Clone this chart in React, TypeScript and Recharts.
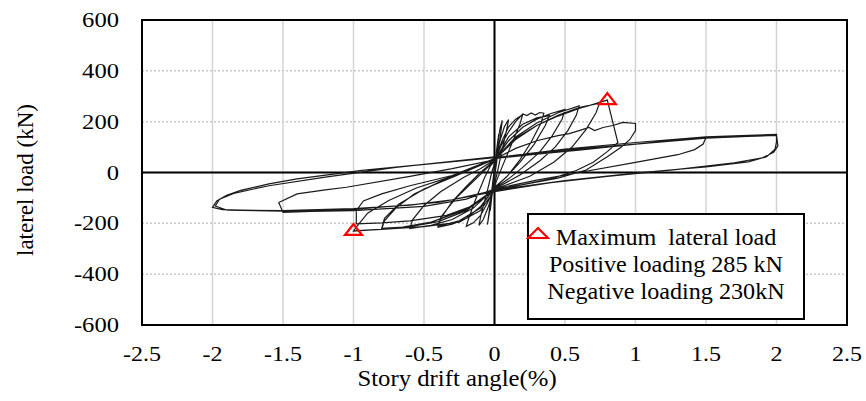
import React from 'react';
import {
  ComposedChart,
  Line,
  Scatter,
  XAxis,
  YAxis,
  CartesianGrid,
  ReferenceLine,
  ReferenceArea,
  Label,
} from 'recharts';

const driftTicks = [-2.5, -2, -1.5, -1, -0.5, 0, 0.5, 1, 1.5, 2, 2.5];
const loadTicks = [-600, -400, -200, 0, 200, 400, 600];

type Pt = [number, number];

const cycle1: Pt[] = [
  [0, 0], [0.01, 70], [0.03, 150], [0.025, 110], [0.005, 30], [-0.01, -50],
  [-0.03, -150], [-0.025, -110], [-0.005, -20],
];
const cycle2: Pt[] = [
  [0, 20], [0.02, 110], [0.04, 175], [0.055, 205], [0.045, 160], [0.02, 60], [0, -20],
  [-0.02, -100], [-0.04, -170], [-0.05, -205], [-0.04, -165], [-0.015, -50], [0, 20],
];
const cycle3: Pt[] = [
  [0, 30], [0.03, 110], [0.07, 180], [0.1, 208], [0.085, 165], [0.05, 80], [0.02, 0], [0, -45],
  [-0.04, -130], [-0.08, -185], [-0.11, -208], [-0.095, -165], [-0.05, -70], [-0.02, 0], [0, 35],
];
const cycle4: Pt[] = [
  [0, 40], [0.05, 120], [0.1, 180], [0.15, 210], [0.2, 228], [0.18, 190], [0.12, 110], [0.06, 30],
  [0.02, -25], [0, -55], [-0.05, -120], [-0.1, -170], [-0.15, -198], [-0.2, -212], [-0.18, -175],
  [-0.13, -100], [-0.07, -20], [-0.03, 25], [0, 45],
];
const cycle5: Pt[] = [
  [0, 45], [0.05, 110], [0.1, 160], [0.15, 200], [0.2, 230], [0.23, 224], [0.26, 234], [0.29, 226],
  [0.32, 236], [0.35, 233], [0.33, 195], [0.26, 120], [0.18, 50], [0.09, -15], [0, -60],
  [-0.1, -135], [-0.2, -180], [-0.3, -203], [-0.4, -215], [-0.38, -180], [-0.3, -115],
  [-0.2, -55], [-0.1, 0], [0, 48],
];
const cycle5b: Pt[] = [
  [0, 45], [0.1, 140], [0.2, 190], [0.3, 215], [0.39, 224], [0.36, 185], [0.28, 110], [0.18, 40],
  [0.08, -20], [0, -58], [-0.1, -140], [-0.25, -190], [-0.4, -212], [-0.38, -175], [-0.28, -105],
  [-0.15, -35], [0, 46],
];
const cycle6: Pt[] = [
  [0, 48], [0.1, 125], [0.2, 178], [0.3, 210], [0.4, 232], [0.5, 248], [0.48, 210], [0.41, 145],
  [0.32, 80], [0.2, 20], [0.1, -25], [0, -62], [-0.15, -140], [-0.3, -185], [-0.45, -208],
  [-0.6, -220], [-0.58, -185], [-0.5, -130], [-0.38, -75], [-0.22, -20], [-0.1, 15], [0, 50],
];
const cycle7: Pt[] = [
  [0, 50], [0.15, 140], [0.3, 195], [0.45, 235], [0.6, 262], [0.58, 225], [0.52, 165], [0.43, 100],
  [0.32, 45], [0.18, -10], [0, -65], [-0.2, -150], [-0.4, -193], [-0.6, -213], [-0.8, -222],
  [-0.78, -190], [-0.7, -140], [-0.57, -85], [-0.38, -35], [-0.18, 10], [0, 52],
];
const cycle7b: Pt[] = [
  [0, 50], [0.15, 130], [0.3, 185], [0.45, 225], [0.6, 255], [0.745, 273], [0.72, 235], [0.65, 170],
  [0.55, 100], [0.42, 40], [0.25, -15], [0, -66], [-0.2, -145], [-0.45, -195], [-0.65, -215],
  [-0.8, -220], [-0.78, -180], [-0.68, -125], [-0.5, -65], [-0.28, -15], [0, 52],
];
const cycle8: Pt[] = [
  [0, 52], [0.15, 135], [0.3, 185], [0.45, 222], [0.6, 252], [0.7, 268], [0.8, 285], [0.875, 118],
  [0.8, 82], [0.7, 40], [0.58, 8], [0.4, -25], [0.2, -48], [0, -70], [-0.1, -150], [-0.25, -195],
  [-0.5, -213], [-0.75, -222], [-1.0, -230], [-0.98, -215], [-0.9, -160], [-0.75, -110],
  [-0.55, -60], [-0.3, -15], [0, 52],
];
const cycle9: Pt[] = [
  [0, 52], [0.15, 95], [0.3, 125], [0.45, 145], [0.53, 153], [0.6, 165], [0.67, 177], [0.71, 165],
  [0.77, 177], [0.84, 185], [0.91, 197], [1.0, 193], [1.0, 165], [0.96, 130], [0.9, 100],
  [0.8, 62], [0.65, 10], [0.45, -22], [0.2, -48], [0, -68], [-0.15, -130], [-0.35, -170],
  [-0.6, -190], [-0.8, -198], [-0.98, -202], [-0.98, -150], [-0.93, -112], [-0.8, -84],
  [-0.6, -52], [-0.3, -12], [0, 55],
];
const cycle10: Pt[] = [
  [0, 55], [0.3, 72], [0.6, 88], [1.0, 112], [1.3, 128], [1.5, 138], [1.48, 112], [1.42, 90],
  [1.3, 70], [1.0, 40], [0.6, 0], [0.3, -30], [0, -65], [-0.2, -105], [-0.5, -133], [-1.0, -150],
  [-1.3, -153], [-1.5, -157], [-1.53, -118], [-1.4, -84], [-1.2, -68], [-1.05, -58], [-0.6, -15],
  [-0.3, 15], [0, 50],
];
const cycle11: Pt[] = [
  [0, 58], [0.5, 92], [1.0, 118], [1.5, 140], [1.8, 146], [2.0, 150], [2.0, 120], [1.99, 92],
  [1.93, 62], [1.8, 42], [1.5, 22], [1.0, -2], [0.5, -32], [0, -70], [-0.3, -108], [-0.6, -128],
  [-1.0, -142], [-1.5, -150], [-1.8, -148], [-1.93, -146], [-2.0, -137], [-1.97, -112],
  [-1.9, -90], [-1.8, -70], [-1.6, -45], [-1.4, -25], [-0.94, 8], [-0.46, 34], [0, 58],
];
const cycle12: Pt[] = [
  [0, 58], [0.5, 88], [1.0, 112], [1.5, 135], [1.8, 142], [2.0, 146], [2.01, 105], [1.98, 80],
  [1.9, 58], [1.7, 38], [1.3, 12], [0.8, -15], [0.4, -40], [0, -75], [-0.4, -118], [-1.0, -145],
  [-1.5, -152], [-1.9, -148], [-1.98, -132], [-1.95, -105], [-1.85, -82], [-1.6, -52],
  [-1.2, -18], [-0.7, 20], [0, 62],
];

const peakDrift = [0.8, -1.0];
const peakLoad = [285, -230];

const legendLines = ['Maximum  lateral load', 'Positive loading 285 kN', 'Negative loading 230kN'];

const cycles = [
  cycle1, cycle2, cycle3, cycle4, cycle5, cycle5b, cycle6, cycle7, cycle7b, cycle8, cycle9,
  cycle10, cycle11, cycle12,
];
const hysteresis = cycles.flat().map(([drift, load]) => ({ drift, load }));
const peaks = peakDrift.map((drift, i) => ({ drift, load: peakLoad[i] }));

const FONT = "'Liberation Serif', 'Times New Roman', serif";

const XTick = (props: any) => {
  const { x, y, payload } = props;
  return (
    <g transform={`translate(${x},${y + 36}) scale(1.2,1)`}>
      <text textAnchor="middle" fontFamily={FONT} fontSize={20} fill="#000">
        {payload.value}
      </text>
    </g>
  );
};

const YTick = (props: any) => {
  const { x, y, payload } = props;
  return (
    <g transform={`translate(${x - 23},${y + 7}) scale(1.23,1)`}>
      <text textAnchor="end" fontFamily={FONT} fontSize={20} fill="#000">
        {payload.value}
      </text>
    </g>
  );
};

const Triangle = (props: any) => {
  const { cx, cy } = props;
  return (
    <polygon
      points={`${cx},${cy - 7} ${cx - 8.5},${cy + 4} ${cx + 8.5},${cy + 4}`}
      fill="none"
      stroke="#ff0000"
      strokeWidth={2.2}
    />
  );
};

export default function App() {
  return (
    <div style={{ position: 'absolute', left: 0, top: 0, width: 866, height: 401, background: '#fff' }}>
      <ComposedChart
        width={866}
        height={401}
        data={hysteresis}
        margin={{ top: 20, right: 19, bottom: 0, left: 0 }}
      >
        <CartesianGrid horizontal={false} stroke="#d4d4d4" strokeWidth={1.5} />
        <CartesianGrid vertical={false} stroke="#c8c8c8" strokeDasharray="2 2" strokeWidth={1.5} />
        <XAxis
          type="number"
          dataKey="drift"
          domain={[-2.5, 2.5]}
          ticks={driftTicks}
          axisLine={false}
          tickLine={false}
          tickSize={0}
          tickMargin={0}
          height={76}
          interval={0}
          tick={<XTick />}
        >
          <Label
            content={() => (
              <g transform="translate(457,386) scale(1.1,1)">
                <text textAnchor="middle" fontFamily={FONT} fontSize={22.5} fill="#000">
                  Story drift angle(%)
                </text>
              </g>
            )}
          />
        </XAxis>
        <YAxis
          type="number"
          domain={[-600, 600]}
          ticks={loadTicks}
          axisLine={false}
          tickLine={false}
          tickSize={0}
          tickMargin={0}
          width={142}
          interval={0}
          tick={<YTick />}
        >
          <Label
            content={() => (
              <g transform="translate(33,180) rotate(-90)">
                <text textAnchor="middle" fontFamily={FONT} fontSize={23} fill="#000">
                  laterel load (kN)
                </text>
              </g>
            )}
          />
        </YAxis>
        <ReferenceLine x={0} stroke="#000" strokeWidth={2} />
        <ReferenceLine y={0} stroke="#000" strokeWidth={2} />
        <Line
          type="linear"
          dataKey="load"
          stroke="#1a1a1a"
          strokeWidth={1.2}
          dot={false}
          activeDot={false}
          isAnimationActive={false}
        />
        <Scatter data={peaks} dataKey="load" shape={<Triangle />} isAnimationActive={false} />
        <ReferenceArea x1={-2.5} x2={2.5} y1={-600} y2={600} fill="none" stroke="#000" strokeWidth={2} />
      </ComposedChart>
      <div
        style={{
          position: 'absolute',
          left: 527,
          top: 213,
          width: 274,
          height: 103,
          border: '2px solid #000',
          background: '#fff',
          fontFamily: FONT,
          fontSize: 23,
          lineHeight: '27px',
          textAlign: 'center',
          color: '#000',
        }}
      >
        <div style={{ paddingTop: 9, transform: 'scaleX(1.05)', whiteSpace: 'pre' }}>
          {legendLines.map((t) => (
            <div key={t}>{t}</div>
          ))}
        </div>
      </div>
      <svg style={{ position: 'absolute', left: 526, top: 226, width: 24, height: 14 }}>
        <polygon points="12,2 2,12 22,12" fill="none" stroke="#ff0000" strokeWidth={2.2} />
      </svg>
    </div>
  );
}
